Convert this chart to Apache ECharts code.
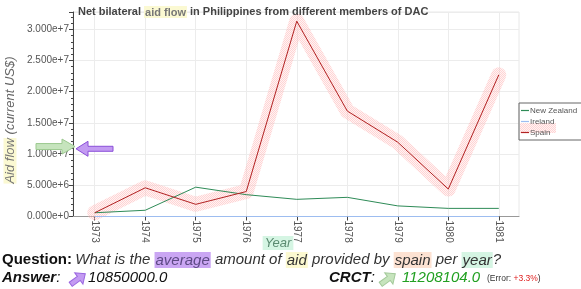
<!DOCTYPE html>
<html><head><meta charset="utf-8">
<script src="https://cdn.jsdelivr.net/npm/echarts@6/dist/echarts.min.js"></script>
<style>html,body{margin:0;padding:0;background:#fff}#c{width:581px;height:289px}</style>
</head><body><div id="c"></div>
<script>
const years = [1973, 1974, 1975, 1976, 1977, 1978, 1979, 1980, 1981];
const newZealand = [600000, 1000000, 4700000, 3500000, 2750000, 3070000, 1700000, 1300000, 1300000];
const ireland = [0, 0, 0, 0, 0, 0, 0, 0, 0];
const spain = [600000, 4600000, 1950000, 4000000, 31300000, 16900000, 11900000, 4400000, 22700000];
const yTickValues = [0, 5000000, 10000000, 15000000, 20000000, 25000000, 30000000];
const answerValue = 10850000;
const crctValue = 11208104;

const FONT = '"Liberation Sans", Arial, sans-serif';
const pair = arr => years.map((y, i) => [y, arr[i]]);

// hatched pink texture for the highlight glow
const pc = document.createElement('canvas');
pc.width = 4; pc.height = 4;
const pctx = pc.getContext('2d');
pctx.fillStyle = 'rgba(255,215,215,0.3)';
pctx.fillRect(0, 0, 4, 4);
pctx.fillStyle = 'rgba(255,160,160,0.38)';
[[0,0],[2,0],[1,1],[3,1],[0,2],[2,2],[1,3],[3,3]].forEach(p => pctx.fillRect(p[0], p[1], 1, 1));

const chart = echarts.init(document.getElementById('c'), null, {renderer: 'canvas'});
chart.setOption({
  backgroundColor: '#fff',
  animation: false,
  textStyle: {fontFamily: FONT},
  title: {
    text: 'Net bilateral {hl|aid flow} in Philippines from different members of DAC',
    left: 73, top: 1,
    textStyle: {fontSize: 11, fontWeight: 'bold', color: '#444', fontFamily: FONT,
      rich: {hl: {fontSize: 11, fontWeight: 'bold', color: '#777', backgroundColor: '#fbf9d2', padding: [1, 1, 0, 1], fontFamily: FONT}}}
  },
  legend: {
    orient: 'vertical', left: 519, top: 103,
    data: ['New Zealand', 'Ireland', 'Spain'],
    icon: 'rect',
    itemWidth: 8, itemHeight: 1.2, itemGap: 2,
    padding: [3, 10, 3, 2],
    borderColor: '#666', borderWidth: 1,
    textStyle: {fontSize: 8, color: '#555', fontFamily: FONT, padding: [0, 0, 0, -4], lineHeight: 9}
  },
  grid: {left: 73, right: 62, top: 12, bottom: 72.5, show: true, borderColor: '#e8e8e8', borderWidth: 1},
  xAxis: {
    type: 'value', min: 1972.57, max: 1981.4,
    axisLine: {show: true, onZero: false, lineStyle: {color: '#999'}},
    axisTick: {show: true, customValues: years, length: 4, lineStyle: {color: '#444'}},
    axisLabel: {customValues: years, rotate: -90, fontSize: 10, color: '#555', margin: 4, formatter: v => String(v)},
    splitLine: {show: true, lineStyle: {color: '#ececec'}}
  },
  yAxis: {
    type: 'value', min: 0, max: 32770000, interval: 5000000,
    axisLine: {show: true, lineStyle: {color: '#444'}},
    axisTick: {show: true, length: 4, lineStyle: {color: '#444'}},
    minorTick: {show: true, splitNumber: 5, length: 2, lineStyle: {color: '#444'}},
    axisLabel: {fontSize: 10, color: '#555', margin: 4,
      formatter: v => yTickValues.includes(v) ? v.toExponential(3) : ''},
    splitLine: {show: true, lineStyle: {color: '#ececec'}}
  },
  series: [
    {name: 'SpainGlow', type: 'line', data: pair(spain), symbol: 'none', silent: true,
      lineStyle: {width: 15, color: {image: pc, repeat: 'repeat'}, cap: 'round', join: 'round'}, z: 1},
    {name: 'New Zealand', type: 'line', data: pair(newZealand), symbol: 'none',
      lineStyle: {width: 1, color: '#2e8b57'}, itemStyle: {color: '#2e8b57'}, z: 3},
    {name: 'Ireland', type: 'line', data: pair(ireland), symbol: 'none',
      lineStyle: {width: 1, color: '#9dbdf0'}, itemStyle: {color: '#9dbdf0'}, z: 3},
    {name: 'Spain', type: 'line', data: pair(spain), symbol: 'none',
      lineStyle: {width: 1, color: '#b22222'}, itemStyle: {color: '#b22222'}, z: 4}
  ]
});

const axisX = chart.convertToPixel({xAxisIndex: 0}, 1972.57);
const yAns = chart.convertToPixel({yAxisIndex: 0}, answerValue);
const yCrct = chart.convertToPixel({yAxisIndex: 0}, crctValue);

function arrowRight(tipX, cy, len, shaftH, headLen, headH) {
  return [[tipX - len, cy - shaftH/2], [tipX - headLen, cy - shaftH/2], [tipX - headLen, cy - headH/2],
          [tipX, cy], [tipX - headLen, cy + headH/2], [tipX - headLen, cy + shaftH/2], [tipX - len, cy + shaftH/2]];
}
function arrowLeft(tipX, cy, len, shaftH, headLen, headH) {
  return arrowRight(-tipX, cy, len, shaftH, headLen, headH).map(p => [-p[0], p[1]]);
}
function smallArrow(cx, cy, fill, stroke) {
  const pts = [[-9,-2.5],[1,-2.5],[1,-7],[9,0],[1,7],[1,2.5],[-9,2.5]];
  return {type: 'polygon', x: cx, y: cy, rotation: Math.PI/5,
    shape: {points: pts}, style: {fill: fill, stroke: stroke, lineWidth: 1}, z: 10};
}

const italic = {fontStyle: 'italic', fontSize: 15, fill: '#333', fontFamily: FONT};
const hl = c => Object.assign({}, italic, {backgroundColor: c, padding: [1, 1, 0, 1]});

chart.setOption({
  graphic: [
    {type: 'rect', shape: {x: 520, y: 123, width: 36, height: 10}, style: {fill: {image: pc, repeat: 'repeat'}}, z: 0},
    {type: 'text', x: 10, y: 120, rotation: Math.PI/2,
      style: {text: '{hl|Aid flow} (current US$)', align: 'center', verticalAlign: 'middle',
        fontSize: 13, fontStyle: 'italic', fill: '#666', fontFamily: FONT,
        rich: {hl: {fontSize: 13, fontStyle: 'italic', fill: '#777', backgroundColor: '#fbf9d2', fontFamily: FONT}}}},
    {type: 'text', x: 278, y: 243,
      style: {text: 'Year', align: 'center', verticalAlign: 'middle', fontSize: 13, fontStyle: 'italic',
        fill: '#5a8a70', backgroundColor: '#d5f5e3', padding: [1, 2, 0, 2], fontFamily: FONT}},
    {type: 'polygon', shape: {points: arrowRight(axisX + 2, yCrct, 39, 6, 13, 15)},
      style: {fill: '#c6e4bd', stroke: '#9cc98f', lineWidth: 1}, z: 10},
    {type: 'polygon', shape: {points: arrowLeft(axisX + 3, yAns, 37, 5, 12, 15)},
      style: {fill: '#c39bf2', stroke: '#8a4fd8', lineWidth: 1}, z: 11},
    {type: 'text', x: 2, y: 260,
      style: {text: '{q|Question:} {i|What is the }{p|average}{i| amount of }{y|aid}{i| provided by }{o|spain}{i| per }{g|year}{i|?}',
        verticalAlign: 'middle', fontFamily: FONT,
        rich: {
          q: {fontSize: 15, fontWeight: 'bold', fill: '#111', fontFamily: FONT},
          i: italic,
          p: Object.assign(hl('#caa6f3'), {fill: '#5e4a85'}),
          y: hl('#fcf9d0'),
          o: hl('#fde2d2'),
          g: hl('#d5f5e3')
        }}},
    {type: 'text', x: 2, y: 278,
      style: {text: '{a|Answer}{c|:}', verticalAlign: 'middle', fontFamily: FONT,
        rich: {a: {fontSize: 15, fontWeight: 'bold', fontStyle: 'italic', fill: '#111', fontFamily: FONT},
               c: {fontSize: 15, fontStyle: 'italic', fill: '#111', fontFamily: FONT}}}},
    smallArrow(78, 279, '#c39bf2', '#9a66e0'),
    {type: 'text', x: 88, y: 278,
      style: {text: answerValue.toFixed(1), verticalAlign: 'middle', fontSize: 15, fontStyle: 'italic', fill: '#111', fontFamily: FONT}},
    {type: 'text', x: 329, y: 278,
      style: {text: '{a|CRCT}{c|:}', verticalAlign: 'middle', fontFamily: FONT,
        rich: {a: {fontSize: 15, fontWeight: 'bold', fontStyle: 'italic', fill: '#111', fontFamily: FONT},
               c: {fontSize: 15, fontStyle: 'italic', fill: '#111', fontFamily: FONT}}}},
    smallArrow(388, 279, '#c6e4bd', '#a3c99a'),
    {type: 'text', x: 402, y: 278,
      style: {text: crctValue.toFixed(1), verticalAlign: 'middle', fontSize: 15, fontStyle: 'italic', fill: '#22a022', fontFamily: FONT}},
    {type: 'text', x: 487, y: 279,
      style: {text: '{k|(Error: }{r|+3.3%}{k|)}', verticalAlign: 'middle', fontFamily: FONT,
        rich: {k: {fontSize: 8.5, fill: '#333', fontFamily: FONT}, r: {fontSize: 8.5, fill: '#e02020', fontFamily: FONT}}}}
  ]
});
</script>
</body></html>
